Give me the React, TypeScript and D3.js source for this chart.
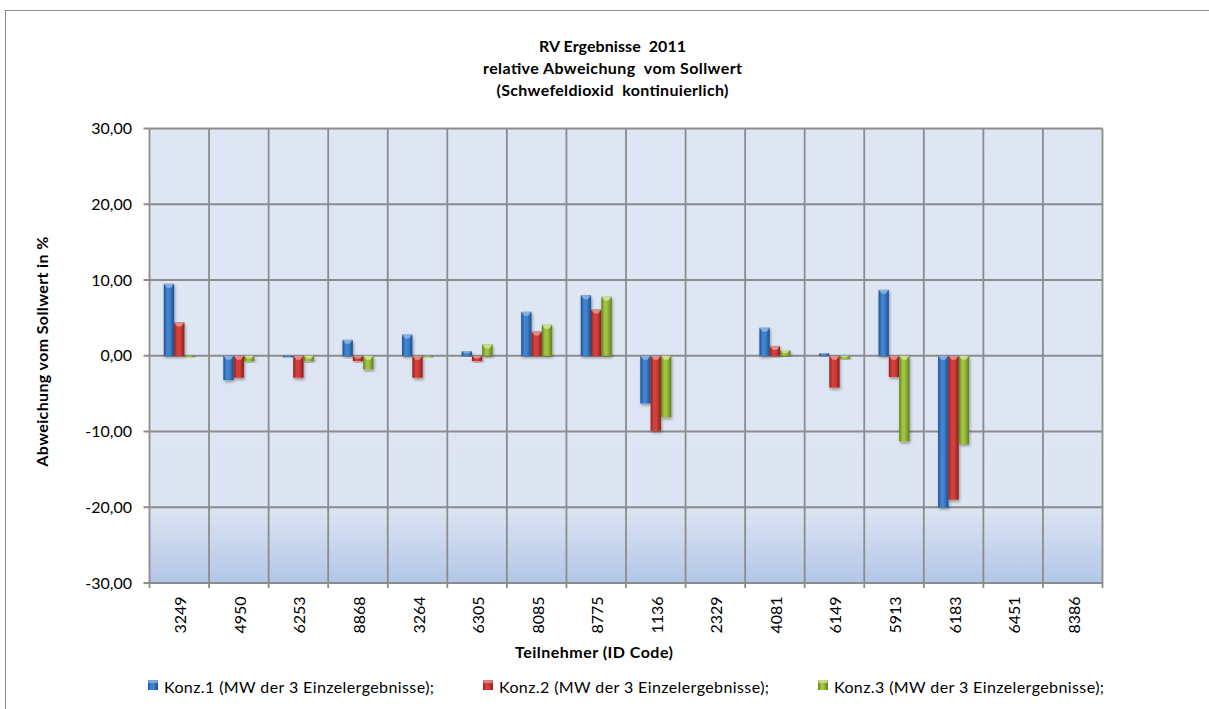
import React from "react"
import * as d3 from "d3"

const ids = ["3249", "4950", "6253", "8868", "3264", "6305", "8085", "8775", "1136", "2329", "4081", "6149", "5913", "6183", "6451", "8386"]
const konz1 = [9.5, -3.2, -0.2, 2.1, 2.8, 0.6, 5.8, 8.0, -6.3, null, 3.7, 0.3, 8.7, -20.0, null, null]
const konz2 = [4.4, -2.9, -2.9, -0.7, -2.9, -0.7, 3.2, 6.1, -9.9, null, 1.3, -4.2, -2.8, -19.0, null, null]
const konz3 = [-0.2, -0.7, -0.7, -1.8, -0.2, 1.5, 4.1, 7.8, -8.1, null, 0.75, -0.4, -11.3, -11.65, null, null]
const seriesNames = [
  "Konz.1 (MW der 3 Einzelergebnisse);",
  "Konz.2 (MW der 3 Einzelergebnisse);",
  "Konz.3 (MW der 3 Einzelergebnisse);",
]
const yTicks = [-30, -20, -10, 0, 10, 20, 30]
const titleLines = ["RV Ergebnisse  2011", "relative Abweichung  vom Sollwert", "(Schwefeldioxid  kontinuierlich)"]

// dark edge, light middle, bevel highlight
const palette = [
  { dark: "#1f4f8f", mid: "#3f84d0", top: "#8fbdf0" },
  { dark: "#8e1f1d", mid: "#d2413d", top: "#f09a96" },
  { dark: "#5f7d1f", mid: "#9fc240", top: "#d3ea94" },
]

const W = 1209
const H = 709
const plot = { left: 149.5, right: 1102.5, top: 128.5, bottom: 583 }
const font = "Lato, 'Open Sans', sans-serif"
// text widths, Calibri is narrower than Lato
const titleLen = [147, 259, 232]
const legendLen = 270

export default function App() {
  const series = [konz1, konz2, konz3]

  const x0 = d3.scaleBand<string>().domain(ids).range([plot.left, plot.right]).padding(0)
  const bw = x0.bandwidth()
  const groupW = bw * 0.52
  const x1 = d3
    .scaleBand<number>()
    .domain([0, 1, 2])
    .range([(bw - groupW) / 2, (bw + groupW) / 2])
  const y = d3.scaleLinear().domain([-30, 30]).range([plot.bottom, plot.top])

  const fmt = (v: number) => v.toFixed(2).replace(".", ",")
  const titleX = 612.5

  return (
    <svg
      width={W}
      height={H}
      style={{ position: "fixed", left: 0, top: 0, background: "#fff" }}
      fontFamily={font}
    >
      <defs>
        <linearGradient id="plotBg" x1="0" y1="0" x2="0" y2="1">
          <stop offset="0" stopColor="#dfe6f3" />
          <stop offset="0.83" stopColor="#dde5f3" />
          <stop offset="1" stopColor="#b3c6e7" />
        </linearGradient>
        {palette.map((p, i) => (
          <linearGradient key={i} id={`bar${i}`} x1="0" y1="0" x2="1" y2="0">
            <stop offset="0" stopColor={p.dark} />
            <stop offset="0.3" stopColor={p.mid} />
            <stop offset="0.55" stopColor={p.mid} />
            <stop offset="1" stopColor={p.dark} />
          </linearGradient>
        ))}
        <filter id="shadow" x="-50%" y="-20%" width="200%" height="140%">
          <feDropShadow dx="1" dy="2" stdDeviation="1.5" floodColor="#000" floodOpacity="0.35" />
        </filter>
      </defs>

      {/* outer chart frame */}
      <rect x={5.5} y={10.5} width={W + 10} height={H + 10} fill="#fff" stroke="#8a8a8a" strokeWidth={1} />

      {/* title */}
      <g fontWeight="bold" fontSize={16} fill="#000" textAnchor="middle">
        {titleLines.map((t, i) => (
          <text
            key={i}
            x={titleX}
            y={52 + i * 22}
            textLength={titleLen[i]}
            lengthAdjust="spacing"
            style={{ whiteSpace: "pre" }}
          >
            {t}
          </text>
        ))}
      </g>

      {/* plot area */}
      <rect
        x={plot.left}
        y={plot.top}
        width={plot.right - plot.left}
        height={plot.bottom - plot.top}
        fill="url(#plotBg)"
      />

      {/* grid */}
      <g stroke="#8c8c8c" strokeWidth={1.8}>
        {yTicks.map((t) => (
          <line key={t} x1={plot.left - 6} x2={plot.right} y1={y(t)} y2={y(t)} />
        ))}
        {ids.map((id) => (
          <line key={id} x1={x0(id)!} x2={x0(id)!} y1={plot.top} y2={plot.bottom + 5} />
        ))}
        <line x1={plot.right} x2={plot.right} y1={plot.top} y2={plot.bottom + 5} />
      </g>

      {/* bars */}
      <g>
        {series.map((vals, si) =>
          vals.map((v, ci) => {
            if (v === null) return null
            const bx = x0(ids[ci])! + x1(si)!
            const w = x1.bandwidth()
            const y0 = y(Math.max(v, 0))
            const h = Math.max(Math.abs(y(v) - y(0)), 1.5)
            const bevel = Math.min(4, h / 2)
            return (
              <g key={`${si}-${ci}`}>
                <rect x={bx} y={y0} width={w} height={h} fill={`url(#bar${si})`} filter="url(#shadow)" />
                {h > 3 && (
                  <path
                    d={`M${bx},${y0}H${bx + w}L${bx + w / 2 + 2},${y0 + bevel}H${bx + w / 2 - 2}Z`}
                    fill={palette[si].top}
                    opacity={0.8}
                  />
                )}
              </g>
            )
          })
        )}
      </g>

      {/* y tick labels */}
      <g fontSize={16} fill="#000" textAnchor="end">
        {yTicks.map((t) => (
          <text key={t} x={132} y={y(t) + 5.5}>
            {fmt(t)}
          </text>
        ))}
      </g>

      {/* y axis title */}
      <text
        transform={`translate(47.5,351.7) rotate(-90)`}
        textAnchor="middle"
        fontWeight="bold"
        fontSize={16}
        textLength={230}
        lengthAdjust="spacing"
      >
        Abweichung vom Sollwert in %
      </text>

      {/* x tick labels */}
      <g fontSize={16} fill="#000">
        {ids.map((id) => (
          <text
            key={id}
            transform={`translate(${x0(id)! + bw / 2 + 7},${633.5}) rotate(-90)`}
            textAnchor="start"
          >
            {id}
          </text>
        ))}
      </g>

      {/* x axis title */}
      <text
        x={594}
        y={657.5}
        textAnchor="middle"
        fontWeight="bold"
        fontSize={16}
        textLength={158}
        lengthAdjust="spacing"
      >
        Teilnehmer (ID Code)
      </text>

      {/* legend */}
      <g fontSize={16}>
        {seriesNames.map((name, i) => {
          const lx = 148 + i * 335
          return (
            <g key={i}>
              <rect x={lx} y={680} width={10} height={10} fill={`url(#bar${i})`} />
              <rect x={lx} y={680} width={10} height={3} fill={palette[i].top} opacity={0.7} />
              <text x={lx + 16} y={692.5} textLength={legendLen} lengthAdjust="spacing" style={{ whiteSpace: "pre" }}>
                {name}
              </text>
            </g>
          )
        })}
      </g>
    </svg>
  )
}
